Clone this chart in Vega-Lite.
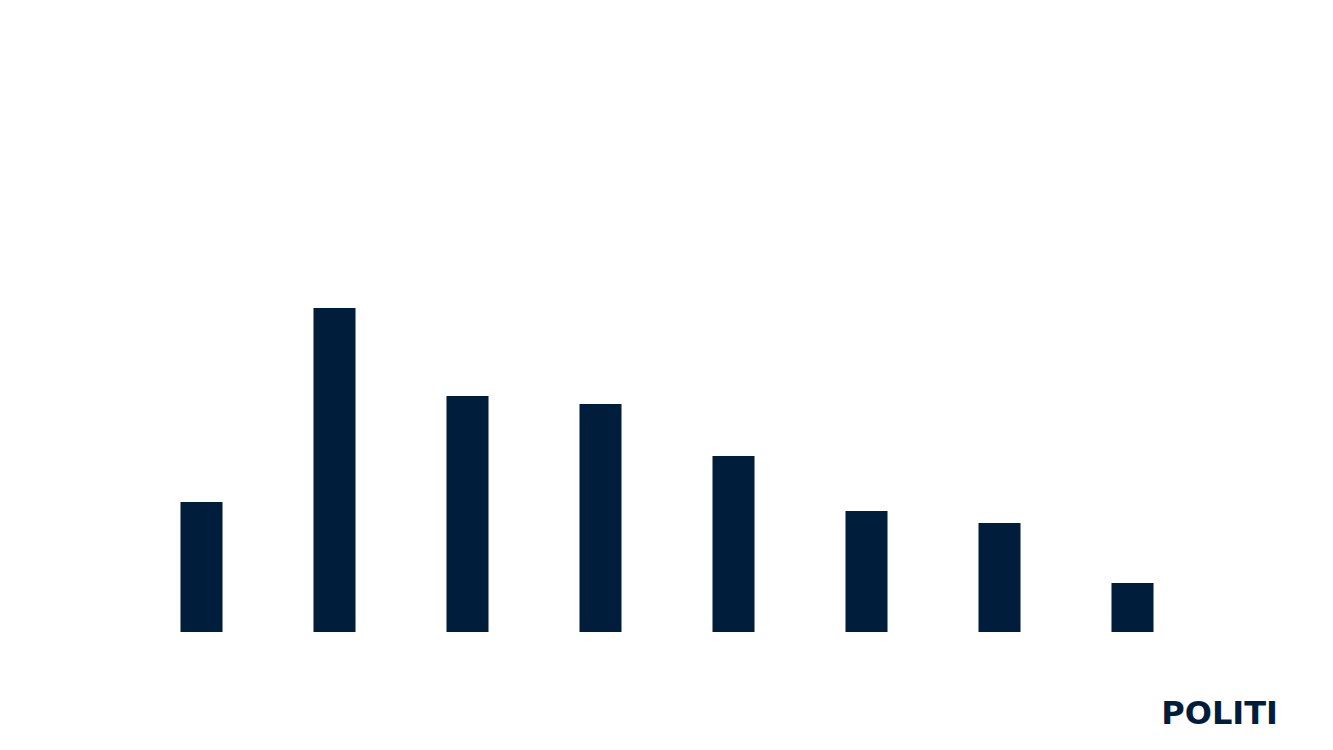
{
  "$schema": "https://vega.github.io/schema/vega-lite/v6.json",
  "description": "Eight navy bars with the POLITI mark",
  "autosize": "none",
  "width": 1064,
  "height": 600,
  "padding": {"left": 135, "right": 134, "top": 32, "bottom": 118},
  "background": "white",
  "config": {"view": {"stroke": null}},
  "title": {
    "text": "POLITI",
    "orient": "bottom",
    "anchor": "end",
    "font": "DejaVu Sans",
    "fontSize": 32,
    "fontWeight": "bold",
    "color": "#001e3c",
    "offset": 67,
    "dx": 79
  },
  "data": {
    "values": [
      {"kategori": "1", "antal": 130},
      {"kategori": "2", "antal": 324},
      {"kategori": "3", "antal": 236},
      {"kategori": "4", "antal": 228},
      {"kategori": "5", "antal": 176},
      {"kategori": "6", "antal": 121},
      {"kategori": "7", "antal": 109},
      {"kategori": "8", "antal": 49}
    ]
  },
  "mark": {"type": "bar", "color": "#001e3c"},
  "encoding": {
    "x": {
      "field": "kategori",
      "type": "ordinal",
      "axis": null,
      "sort": null,
      "scale": {"paddingInner": 0.684, "paddingOuter": 0.342}
    },
    "y": {
      "field": "antal",
      "type": "quantitative",
      "axis": null,
      "scale": {"domain": [0, 600], "nice": false}
    }
  }
}
